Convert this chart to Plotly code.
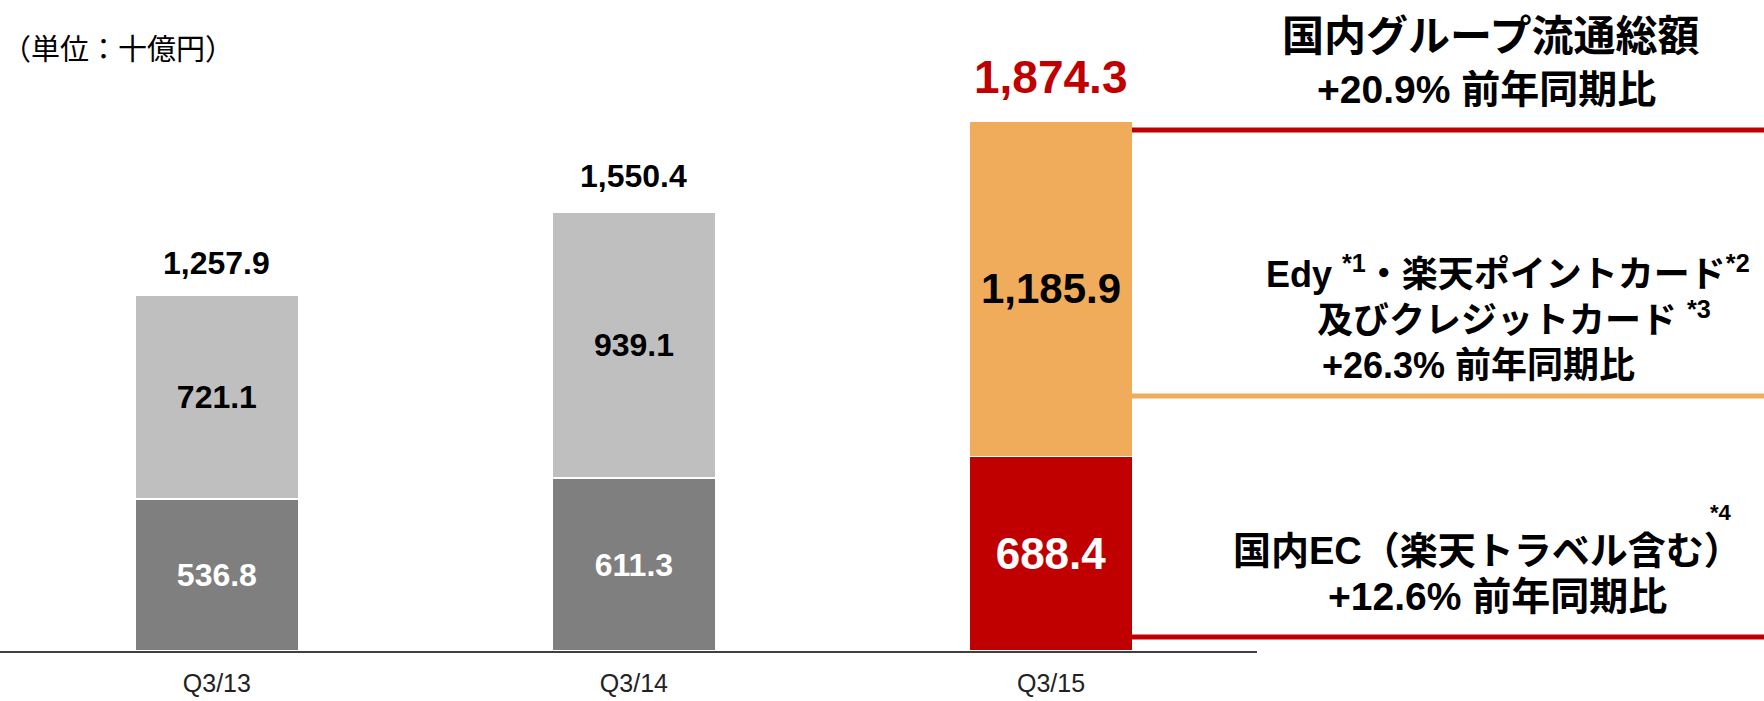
import plotly.graph_objects as go

W, H = 1764, 701

categories = ["Q3/13", "Q3/14", "Q3/15"]
ec_values = [536.8, 611.3, 688.4]
card_values = [721.1, 939.1, 1185.9]
totals = [1257.9, 1550.4, 1874.3]

ec_colors = ["#7f7f7f", "#7f7f7f", "#c00000"]
card_colors = ["#bfbfbf", "#bfbfbf", "#f0ab5b"]
ec_label_sizes = [32, 32, 44]
card_label_sizes = [32, 32, 42]
card_label_colors = ["black", "black", "black"]
total_colors = ["black", "black", "#c00000"]
total_sizes = [32, 32, 46]

LAT = "Liberation Sans, Noto Sans CJK JP, sans-serif"
CJK = "Liberation Sans, Noto Sans CJK JP, sans-serif"

def px(x):
    return x / W

def py(y):
    return 1 - y / H

base_px = 651
scale = 530 / 1874.3
ymax = (base_px) / scale

fig = go.Figure()
fig.add_bar(
    x=categories, y=ec_values, width=0.393,
    marker=dict(color=ec_colors, line=dict(color="white", width=1.5)),
    text=[f"<b>{v:,.1f}</b>" for v in ec_values],
    textposition="inside", insidetextanchor="middle", constraintext="none",
    textfont=dict(color="white", size=ec_label_sizes, family=LAT),
    hoverinfo="skip", showlegend=False,
)
fig.add_bar(
    x=categories, y=card_values, width=0.393,
    marker=dict(color=card_colors, line=dict(color="white", width=1.5)),
    text=[f"<b>{v:,.1f}</b>" for v in card_values],
    textposition="inside", insidetextanchor="middle", constraintext="none",
    textfont=dict(color=card_label_colors, size=card_label_sizes, family=LAT),
    hoverinfo="skip", showlegend=False,
)

annotations = []
for c, t, col, sz, ys in zip(categories, totals, total_colors, total_sizes, [12, 17, 16]):
    annotations.append(dict(
        x=c, y=t, xref="x", yref="y", text=f"<b>{t:,.1f}</b>", showarrow=False,
        yanchor="bottom", yshift=ys, font=dict(color=col, size=sz, family=LAT),
    ))

def note(text, x, y, size, anchor="center"):
    annotations.append(dict(
        x=px(x), y=py(y), xref="paper", yref="paper", text=text, showarrow=False,
        xanchor=anchor, yanchor="middle", font=dict(color="black", size=size, family=CJK),
    ))

note("（単位：十億円）", 0, 50, 29, anchor="left")
note("<b>国内グループ流通総額</b>", 1490, 36, 42)
note("<b>+20.9% 前年同期比</b>", 1486, 89, 39)
note("<b>Edy <sup>*1</sup>・楽天ポイントカード<sup>*2</sup></b>", 1508, 272, 36)
note("<b>及びクレジットカード <sup>*3</sup></b>", 1514, 318, 36)
note("<b>+26.3% 前年同期比</b>", 1478, 366, 36)
note("<b>国内EC（楽天トラベル含む）</b>", 1487, 551, 38)
note("<b>*4</b>", 1721, 512, 22)
note("<b>+12.6% 前年同期比</b>", 1497, 596, 39)

shapes = [
    dict(type="line", xref="paper", yref="paper", x0=px(1132), x1=1, y0=py(130), y1=py(130),
         line=dict(color="#c00000", width=5)),
    dict(type="line", xref="paper", yref="paper", x0=px(1132), x1=1, y0=py(396), y1=py(396),
         line=dict(color="#f0ab5b", width=5)),
    dict(type="line", xref="paper", yref="paper", x0=px(1132), x1=1, y0=py(637), y1=py(637),
         line=dict(color="#c00000", width=5)),
]

fig.update_layout(
    width=W, height=H, barmode="stack",
    margin=dict(l=0, r=0, t=0, b=0),
    paper_bgcolor="white", plot_bgcolor="white",
    annotations=annotations, shapes=shapes,
    xaxis=dict(domain=[0, 1257 / W], range=[-0.52, 2.494], showline=True, linecolor="#404040",
               linewidth=2, showgrid=False, zeroline=False, ticks="",
               tickfont=dict(size=25, color="#222", family="Liberation Sans, sans-serif"),
               ticklabelstandoff=9, automargin=False),
    yaxis=dict(domain=[(H - base_px) / H, 1], range=[0, ymax], visible=False),
)

fig.write_html("out.html", config={"displayModeBar": False},
               post_script="document.body.style.margin='0px';document.body.style.overflow='hidden';")
